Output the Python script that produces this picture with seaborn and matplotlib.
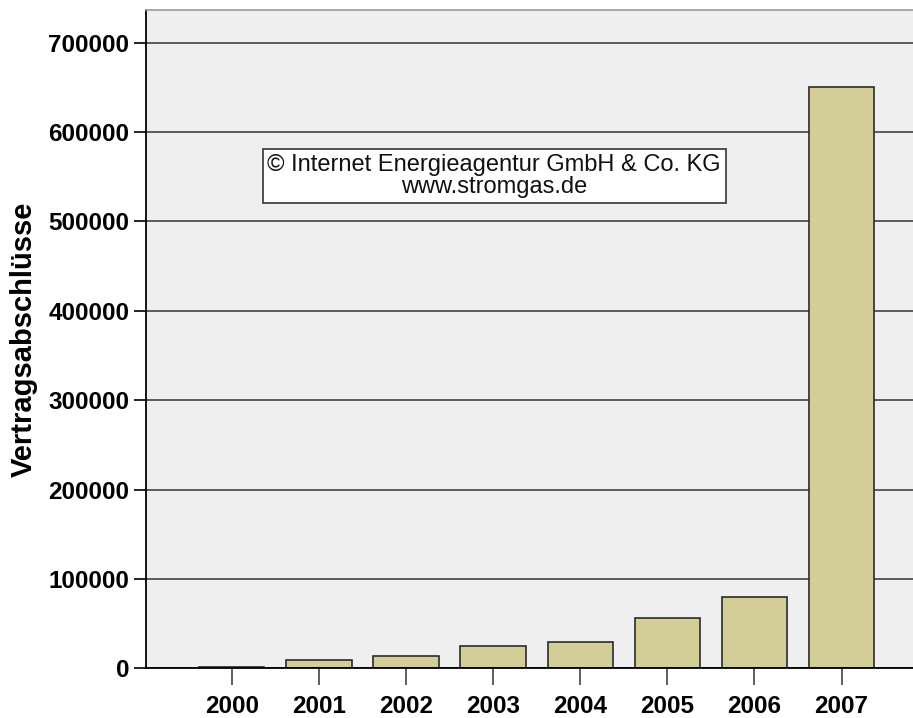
import numpy as np
import pandas as pd
import matplotlib
matplotlib.use("Agg")
import matplotlib.pyplot as plt
import seaborn as sns

years = ["2000", "2001", "2002", "2003", "2004", "2005", "2006", "2007"]
contracts = [1700, 9300, 13800, 24600, 29800, 56600, 79800, 650100]
y_ticks = [0, 100000, 200000, 300000, 400000, 500000, 600000, 700000]

df = pd.DataFrame({"Jahr": years, "Vertragsabschlüsse": contracts})

sns.set_style("white")
plt.rcParams["font.family"] = ["Liberation Sans", "DejaVu Sans"]
plt.rcParams["text.color"] = "black"
plt.rcParams["axes.labelcolor"] = "black"
plt.rcParams["xtick.color"] = "black"
plt.rcParams["ytick.color"] = "black"

fig = plt.figure(figsize=(9.13, 7.18), dpi=100)
ax = fig.add_axes([0.16, 0.0692, 0.84, 0.917])
ax.set_facecolor("#efefef")

sns.barplot(data=df, x="Jahr", y="Vertragsabschlüsse", color="#d3ce97",
            saturation=1, width=0.75, edgecolor="#2b2b2b", linewidth=1.2, ax=ax)

ax.set_axisbelow(True)
ax.yaxis.grid(True, color="#333333", linewidth=1.1)
ax.set_xlim(-0.984, 7.82)
ax.set_ylim(0, 736600)
ax.set_yticks(y_ticks)
ax.set_yticklabels([str(v) for v in y_ticks])

for s in ["left", "bottom"]:
    ax.spines[s].set_color("black")
    ax.spines[s].set_linewidth(1.3)
ax.spines["top"].set_color("#999999")
ax.spines["top"].set_linewidth(1.2)
ax.spines["right"].set_visible(False)

ax.tick_params(axis="x", length=12, width=1.2, color="#444444", pad=7, labelsize=17.5, bottom=True)
ax.tick_params(axis="y", length=9, width=1.2, color="black", pad=3, labelsize=17.5, left=True)
for lab in ax.get_xticklabels() + ax.get_yticklabels():
    lab.set_fontweight("bold")

ax.set_xlabel("")
ax.set_ylabel("Vertragsabschlüsse", fontsize=21, fontweight="bold", labelpad=8)

ax.text(0.4537, 0.748, "© Internet Energieagentur GmbH & Co. KG\nwww.stromgas.de",
        transform=ax.transAxes, ha="center", va="center", fontsize=17,
        linespacing=1.0, color="#111111",
        bbox=dict(boxstyle="square,pad=0.2", facecolor="white", edgecolor="#333333", linewidth=1.2))

fig.savefig("out.png", dpi=100)
